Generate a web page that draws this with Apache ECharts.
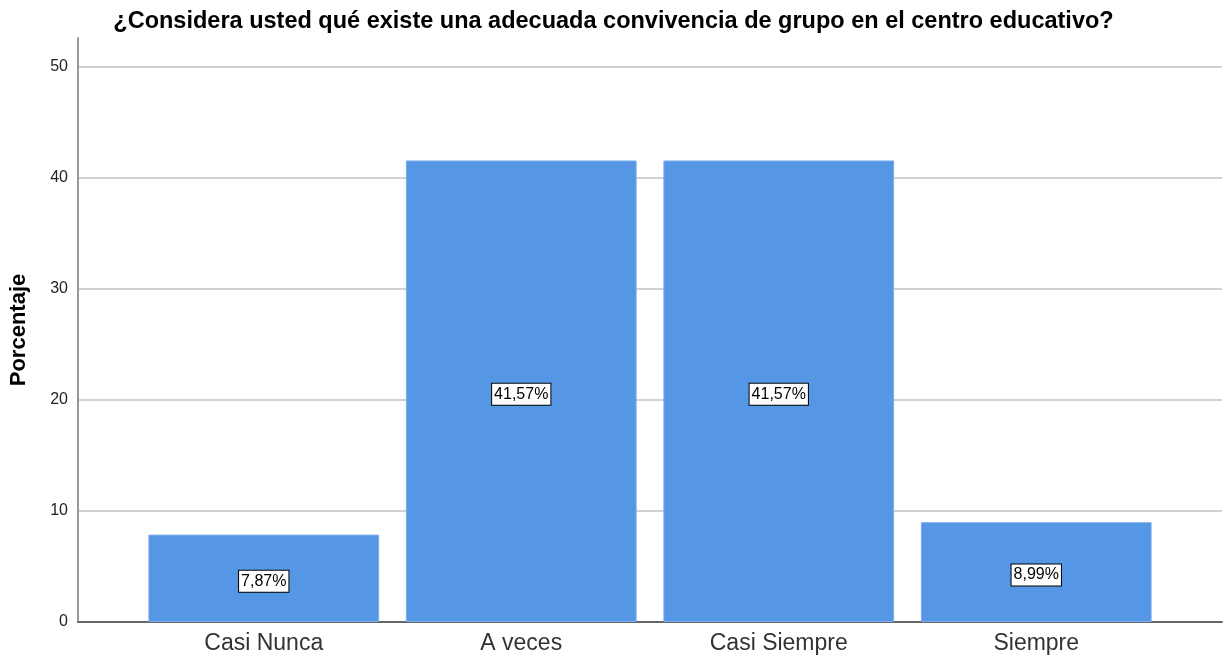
<!DOCTYPE html>
<html lang="es">
<head>
    <meta charset="UTF-8">
    <title>Convivencia de grupo</title>
    <script src="https://cdn.jsdelivr.net/npm/echarts@6/dist/echarts.min.js"></script>
    <style>
        html, body, #chart {
            width: 100%;
            height: 100%;
            margin: 0;
            padding: 0;
            background: #fff;
        }
    </style>
</head>
<body>
    <div id="chart"></div>
    <script>
        var categories = ['Casi Nunca', 'A veces', 'Casi Siempre', 'Siempre'];
        var percentages = [7.87, 41.57, 41.57, 8.99];
        var yTicks = [0, 10, 20, 30, 40, 50];

        var font = '"Liberation Sans", Arial, sans-serif';
        var yMax = 52.6;

        var chart = echarts.init(document.getElementById('chart'));
        chart.setOption({
            animation: false,
            title: {
                text: '¿Considera usted qué existe una adecuada convivencia de grupo en el centro educativo?',
                left: 'center',
                top: 5,
                textStyle: {
                    fontFamily: font,
                    fontSize: 23.5,
                    fontWeight: 'bold',
                    color: '#000'
                }
            },
            grid: [
                { left: 78, right: 5, top: 38, bottom: 38, outerBoundsMode: 'none' },
                { left: 135, right: 62, top: 38, bottom: 38, outerBoundsMode: 'none' }
            ],
            xAxis: [{
                gridIndex: 0,
                type: 'value',
                min: 0,
                max: 1,
                axisLine: { show: true, lineStyle: { color: '#666', width: 2 } },
                axisTick: { show: false },
                axisLabel: { show: false },
                splitLine: { show: false }
            }, {
                gridIndex: 1,
                type: 'category',
                data: categories,
                axisLine: { show: false },
                axisTick: { show: false },
                axisLabel: {
                    fontFamily: font,
                    fontSize: 23,
                    color: '#333',
                    margin: 10
                }
            }],
            yAxis: [{
                gridIndex: 0,
                type: 'value',
                min: yTicks[0],
                max: yMax,
                interval: 10,
                name: 'Porcentaje',
                nameLocation: 'middle',
                nameGap: 48,
                nameTextStyle: {
                    fontFamily: font,
                    fontSize: 22,
                    fontWeight: 'bold',
                    color: '#000'
                },
                axisLine: { show: true, lineStyle: { color: '#999', width: 2 } },
                axisTick: { show: false },
                axisLabel: {
                    fontFamily: font,
                    fontSize: 16,
                    color: '#222',
                    margin: 10,
                    showMaxLabel: false
                },
                splitLine: {
                    show: true,
                    showMinLine: false,
                    showMaxLine: false,
                    lineStyle: { color: '#d2d2d2', width: 2 }
                }
            }, {
                gridIndex: 1,
                type: 'value',
                min: 0,
                max: yMax,
                show: false,
                splitLine: { show: false }
            }],
            series: [{
                type: 'bar',
                xAxisIndex: 1,
                yAxisIndex: 1,
                data: percentages,
                barWidth: '89.6%',
                itemStyle: {
                    color: '#5596e5',
                    borderColor: '#7aaeee',
                    borderWidth: 1
                },
                label: {
                    show: true,
                    position: 'inside',
                    offset: [0, 3],
                    formatter: function (p) {
                        return p.value.toFixed(2).replace('.', ',') + '%';
                    },
                    fontFamily: font,
                    fontSize: 16,
                    color: '#000',
                    backgroundColor: '#fff',
                    borderColor: '#000',
                    borderWidth: 1,
                    padding: [3, 2, 2, 2]
                }
            }]
        });
    </script>
</body>
</html>
